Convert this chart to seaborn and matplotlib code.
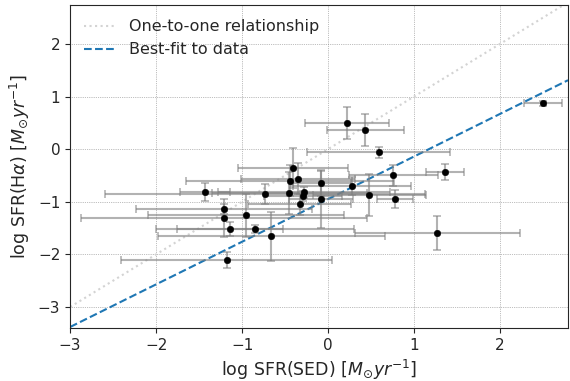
import numpy as np
import pandas as pd
import matplotlib
matplotlib.use("Agg")
import matplotlib.pyplot as plt
import seaborn as sns

# --- DATA ---
log_sfr_sed = [2.50, 0.22, 0.435, 0.59, 1.36, 0.76, 0.78, 0.48, 0.28, -0.08,
               -0.08, -0.41, -0.35, -0.44, -0.45, -0.28, -0.29, -0.33, -0.73, -1.43,
               -1.21, -1.21, -0.96, -1.14, -0.85, -0.66, -1.18, 1.27]
log_sfr_ha = [0.87, 0.50, 0.36, -0.06, -0.44, -0.50, -0.95, -0.88, -0.70, -0.65,
              -0.94, -0.36, -0.56, -0.60, -0.84, -0.82, -0.89, -1.05, -0.85, -0.82,
              -1.14, -1.31, -1.26, -1.52, -1.52, -1.66, -2.11, -1.59]
sed_err = [0.22, 0.49, 0.445, 0.83, 0.22, 0.52, 0.21, 0.66, 0.69, 0.35,
           0.37, 0.64, 0.66, 1.21, 0.90, 1.00, 0.45, 0.60, 1.86, 0.29,
           1.02, 1.66, 1.14, 0.62, 1.15, 1.32, 1.23, 0.96]
ha_err = [0.05, 0.30, 0.30, 0.10, 0.15, 0.20, 0.17, 0.40, 0.17, 0.24,
          0.55, 0.38, 0.30, 0.30, 0.40, 0.10, 0.10, 0.20, 0.19, 0.17,
          0.10, 0.36, 0.41, 0.13, 0.08, 0.47, 0.15, 0.32]

FIT_SLOPE = 0.81
FIT_INTERCEPT = -0.95
X_LIM = (-3.0, 2.79)
Y_LIM = (-3.4, 2.74)

df = pd.DataFrame({"sed": log_sfr_sed, "ha": log_sfr_ha,
                   "sed_err": sed_err, "ha_err": ha_err})

sns.set_style("ticks")
plt.rcParams['font.family'] = ['DejaVu Sans']

fig, ax = plt.subplots(figsize=(5.7, 3.81), dpi=100)

# reference lines across the full x range
x_line = np.linspace(X_LIM[0], X_LIM[1], 50)
lines = pd.DataFrame({"x": x_line, "one": x_line,
                      "fit": FIT_SLOPE * x_line + FIT_INTERCEPT})
sns.lineplot(data=lines, x="x", y="one", color="lightgrey", linestyle=":",
             linewidth=1.5, label="One-to-one relationship", ax=ax)
sns.lineplot(data=lines, x="x", y="fit", color="#1f77b4", linestyle="--",
             linewidth=1.5, label="Best-fit to data", ax=ax)

ax.errorbar(df["sed"], df["ha"], xerr=df["sed_err"], yerr=df["ha_err"],
            fmt="none", ecolor="grey", alpha=0.6, capsize=3, elinewidth=1.5,
            capthick=1.2, zorder=2)
sns.scatterplot(data=df, x="sed", y="ha", color="black", s=22,
                edgecolor="black", zorder=3, ax=ax)

ax.set_xlim(*X_LIM)
ax.set_ylim(*Y_LIM)
ax.grid(True, linestyle=":", color="grey", linewidth=0.5)
ax.set_axisbelow(True)
ax.tick_params(labelsize=11)

ax.set_xlabel(r"log SFR(SED) [$M_{\odot}yr^{-1}$]", fontsize=12.5)
ax.set_ylabel(r"log SFR(H$\alpha$) [$M_{\odot}yr^{-1}$]", fontsize=12.5)
ax.legend(loc="upper left", frameon=False, fontsize=11.5)

fig.subplots_adjust(left=0.123, right=0.9965, top=0.987, bottom=0.139)
plt.savefig("out.png", dpi=100)
plt.close()
